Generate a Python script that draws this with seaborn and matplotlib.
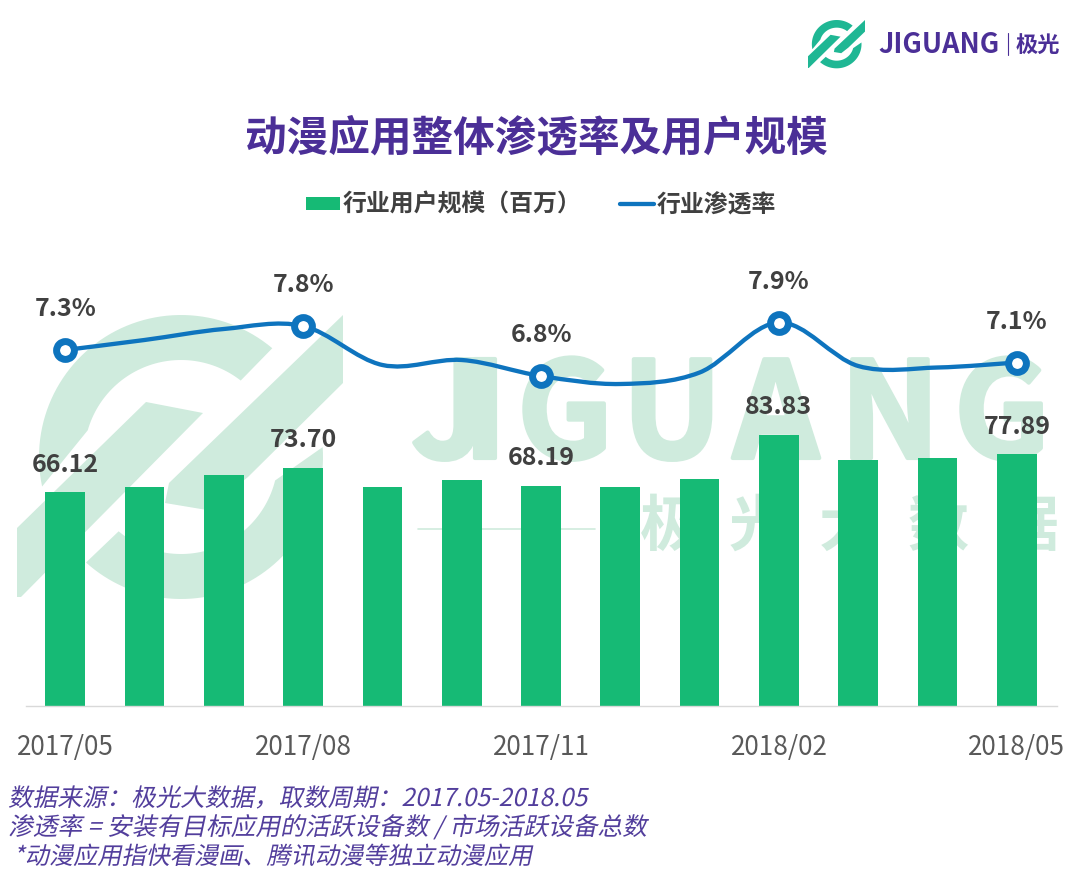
import numpy as np
import seaborn as sns
import matplotlib
matplotlib.use("Agg")
import matplotlib.pyplot as plt
import matplotlib.patheffects as pe
from matplotlib.lines import Line2D
from matplotlib.patches import Patch, PathPatch, Polygon
from matplotlib.path import Path
from matplotlib.transforms import Affine2D

## 数据
months = ["2017/05", "2017/06", "2017/07", "2017/08", "2017/09", "2017/10", "2017/11",
          "2017/12", "2018/01", "2018/02", "2018/03", "2018/04", "2018/05"]
users = [66.12, 67.9, 71.5, 73.70, 67.7, 69.9, 68.19, 67.9, 70.1, 83.83, 76.1, 76.7, 77.89]
rates = [7.3, 7.5, 7.72, 7.78, 7.0, 7.1, 6.78, 6.62, 6.85, 7.85, 6.98, 6.95, 7.05]

tick_months = ["2017/05", "2017/08", "2017/11", "2018/02", "2018/05"]
marked_idx = [0, 3, 6, 9, 12]
rate_labels = ["7.3%", "7.8%", "6.8%", "7.9%", "7.1%"]
user_labels = ["66.12", "73.70", "68.19", "83.83", "77.89"]

title = "动漫应用整体渗透率及用户规模"
legend_names = ["行业用户规模（百万）", "行业渗透率"]
notes = ["数据来源：极光大数据，取数周期：2017.05-2018.05",
         "渗透率 = 安装有目标应用的活跃设备数 / 市场活跃设备总数",
         " *动漫应用指快看漫画、腾讯动漫等独立动漫应用"]

GREEN = "#16BA75"
BLUE = "#0E74BE"
PURPLE = "#4B2F97"
NOTE = "#523E9C"
DARK = "#404040"
WATER = "#CFEBDD"
TEAL = "#1FB794"

W, H = 1080, 893


class Slant(pe.AbstractPathEffect):
    # CJK字体没有斜体，用切变代替
    def draw_path(self, renderer, gc, tpath, affine, rgbFace=None):
        renderer.draw_path(gc, tpath, Affine2D().skew_deg(12, 0) + affine, rgbFace)


sns.set_theme(style="white")
plt.rcParams["font.family"] = ["Noto Sans CJK SC", "DejaVu Sans"]
plt.rcParams["axes.unicode_minus"] = False

fig = plt.figure(figsize=(W / 100, H / 100), dpi=100, facecolor="white")

# 背景层用像素坐标，放水印和logo
bg = fig.add_axes([0, 0, 1, 1], zorder=0)
bg.set_xlim(0, W)
bg.set_ylim(H, 0)
bg.axis("off")


def ring(cx, cy, r0, r1, a0, a1, b0, b1):
    # 外弧 a0->a1，内弧 b1->b0
    t = np.radians(np.linspace(a0, a1, 60))
    s = np.radians(np.linspace(b1, b0, 60))
    return np.vstack([np.c_[cx + r1 * np.cos(t), cy - r1 * np.sin(t)],
                      np.c_[cx + r0 * np.cos(s), cy - r0 * np.sin(s)]])


logo_shapes = [
    ring(181, 457, 97, 142, 50, 192, 52, 164),
    ring(181, 457, 97, 142, 228, 364, 230, 346),
    np.array([(17, 528), (146, 402), (203, 413), (21, 597), (17, 597)], dtype=float),
    np.array([(343, 315), (343, 383), (248, 477), (207, 510), (165, 503), (169, 483)], dtype=float),
]
for shape in logo_shapes:
    bg.add_patch(Polygon(shape, closed=True, fc=WATER, ec="none"))
    # 右上角的小logo
    small = np.c_[808 + (shape[:, 0] - 17) * 57 / 326, 20 + (shape[:, 1] - 315) * 48 / 282]
    bg.add_patch(Polygon(small, closed=True, fc=TEAL, ec="none"))

for cx, ch in zip([449, 485, 565, 672, 776, 890, 1002], "JIGUANG"):
    bg.text(cx, 458, ch, color=WATER, fontsize=96, fontweight="bold", ha="center", va="baseline",
            path_effects=[pe.withStroke(linewidth=3, foreground=WATER)])
bg.plot([418, 595], [529, 529], color=WATER, lw=1.2)
for cx, ch in zip([670, 759, 849, 938, 1028], "极光大数据"):
    bg.text(cx, 528, ch, color=WATER, fontsize=44, fontweight="bold", ha="center", va="center")

bg.text(878, 53, "JIGUANG", color=PURPLE, fontsize=19.5, fontweight="bold", ha="left", va="baseline")
bg.plot([1008, 1008], [33, 55], color=PURPLE, lw=0.8)
bg.text(1038, 45, "极光", color=PURPLE, fontsize=16, fontweight="bold", ha="center", va="center")

# 主图
ax = fig.add_axes([25.5 / W, 1 - 706 / H, 1031 / W, 456 / H], zorder=1)
ax.patch.set_alpha(0)
sns.barplot(x=months, y=users, color=GREEN, saturation=1, width=0.5, linewidth=0, ax=ax)
ax.set_xlim(-0.5, 12.5)
ax.set_ylim(0, 141.1)
ax.set_xticks(marked_idx)
ax.set_xticklabels(tick_months, fontsize=18.8, color="#595959")
ax.set_yticks([])
ax.tick_params(axis="x", length=0, pad=20.5)
sns.despine(ax=ax, left=True)
ax.spines["bottom"].set_color("#D9D9D9")
ax.spines["bottom"].set_linewidth(1)

ax2 = ax.twinx()
ax2.set_ylim(0.18, 9.3)
ax2.set_yticks([])
ax2.grid(False)
for sp in ax2.spines.values():
    sp.set_visible(False)

# 平滑折线，控制点由数据算出
xs = np.arange(len(rates), dtype=float)
ys = np.array(rates)
verts = [(xs[0], ys[0])]
codes = [Path.MOVETO]
for i in range(len(xs) - 1):
    a = max(i - 1, 0)
    b = min(i + 2, len(xs) - 1)
    verts.append((xs[i] + (xs[i + 1] - xs[a]) / 6, ys[i] + (ys[i + 1] - ys[a]) / 6))
    verts.append((xs[i + 1] - (xs[b] - xs[i]) / 6, ys[i + 1] - (ys[b] - ys[i]) / 6))
    verts.append((xs[i + 1], ys[i + 1]))
    codes += [Path.CURVE4, Path.CURVE4, Path.CURVE4]
ax2.add_patch(PathPatch(Path(verts, codes), fc="none", ec=BLUE, lw=3.1, capstyle="round", zorder=3))

mx = [xs[i] for i in marked_idx]
my = [rates[i] for i in marked_idx]
sns.scatterplot(x=mx, y=my, s=165, color="white", edgecolor=BLUE, linewidth=5, zorder=4, ax=ax2, legend=False, clip_on=False)
ax2.set_xlim(-0.5, 12.5)
ax2.set_ylim(0.18, 9.3)

# 数值标签
for i, rate_txt, user_txt in zip(marked_idx, rate_labels, user_labels):
    ax2.annotate(rate_txt, (i, rates[i]), xytext=(0, 29.5), textcoords="offset points", ha="center", va="center",
                 fontsize=18, fontweight="bold", color=DARK)
    ax.annotate(user_txt, (i, users[i]), xytext=(0, 20), textcoords="offset points", ha="center", va="center",
                fontsize=18, fontweight="bold", color=DARK)

# 标题和图例
fig.text(536 / W, 1 - 138 / H, title, fontsize=30, fontweight="bold", color=PURPLE, ha="center", va="center")
handles = [Patch(fc=GREEN, ec="none"), Line2D([0], [0], color=BLUE, lw=3.1)]
fig.legend(handles, legend_names, loc="center", bbox_to_anchor=(541 / W, 1 - 205 / H), ncols=2, frameon=False,
           prop={"size": 17.2, "weight": "bold"}, labelcolor=DARK, handlelength=1.45, handleheight=0.5,
           handletextpad=0.1, columnspacing=1.6, borderpad=0, borderaxespad=0)

# 底部说明
for y, size, line in zip([799, 828, 857], [17.7, 17.8, 17.4], notes):
    fig.text(8 / W, 1 - y / H, line, fontsize=size, color=NOTE, ha="left", va="center",
             path_effects=[Slant()])

fig.savefig("out.png", dpi=100)
